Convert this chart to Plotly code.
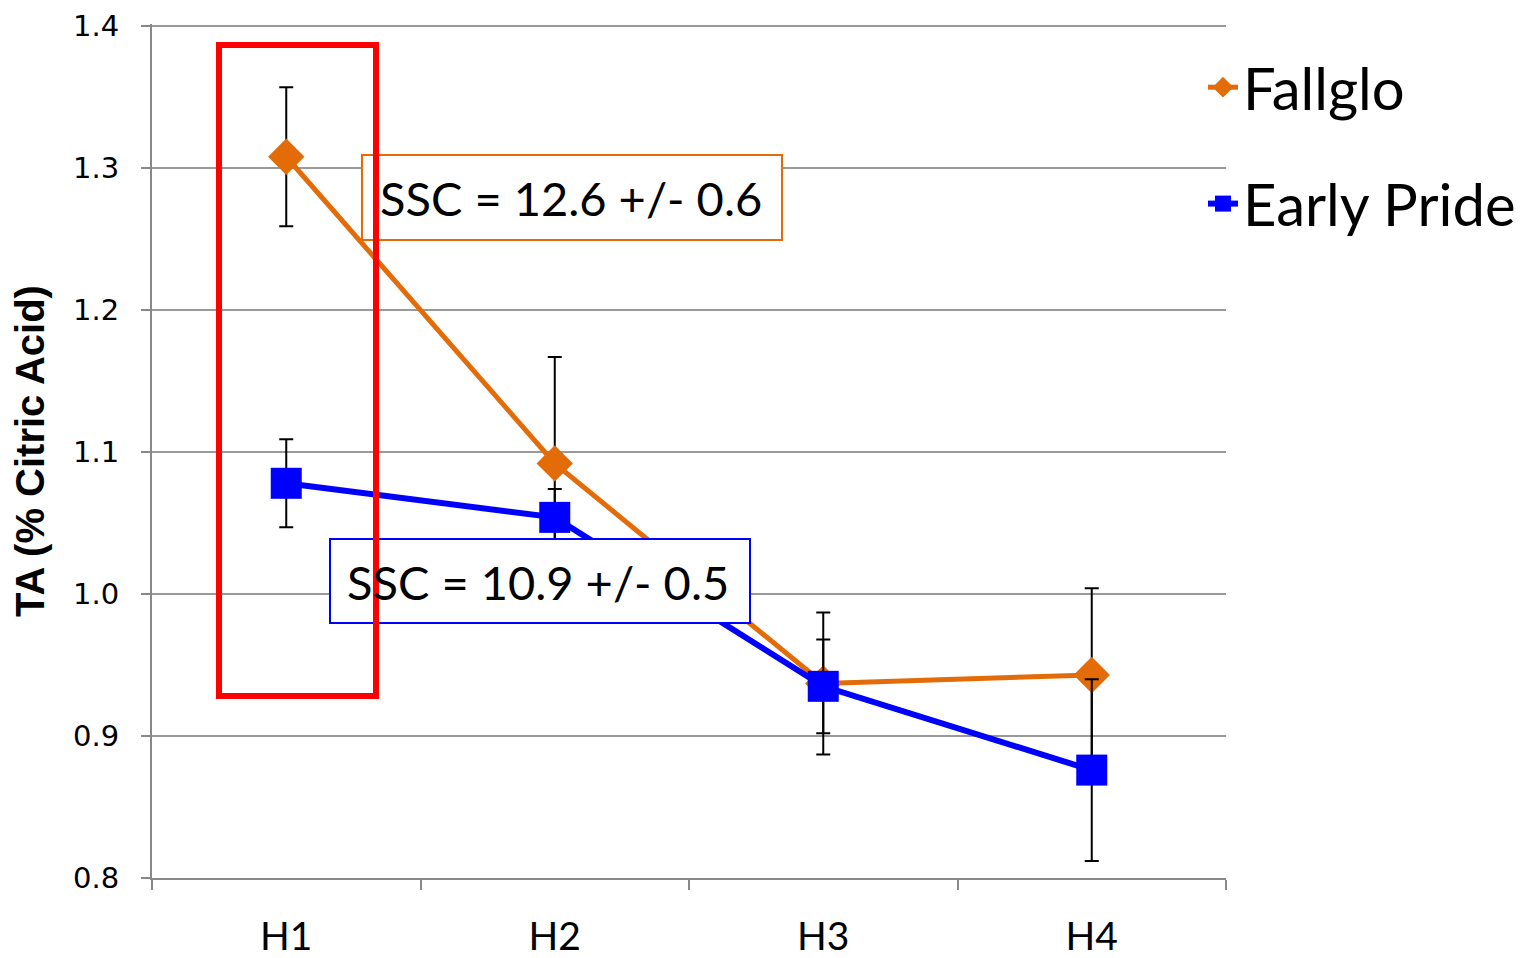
import plotly.graph_objects as go

categories = ["H1", "H2", "H3", "H4"]
fallglo = [1.308, 1.092, 0.937, 0.943]
fallglo_err = [0.049, 0.075, 0.050, 0.061]
early_pride = [1.078, 1.054, 0.935, 0.876]
early_pride_err = [0.031, 0.020, 0.033, 0.064]
y_ticks = [0.8, 0.9, 1.0, 1.1, 1.2, 1.3, 1.4]

ORANGE = "#E36C09"
BLUE = "#0000FF"

fig = go.Figure()
fig.add_trace(go.Scatter(
    x=categories, y=fallglo, name="Fallglo", mode="lines+markers", legendgroup="f",
    line=dict(color=ORANGE, width=5),
    marker=dict(symbol="diamond", size=28, color=ORANGE),
    error_y=dict(type="data", array=fallglo_err, color="black", thickness=2, width=7),
))
fig.add_trace(go.Scatter(
    x=categories, y=early_pride, name="Early Pride", mode="lines+markers", legendgroup="e",
    line=dict(color=BLUE, width=6),
    marker=dict(symbol="square", size=31, color=BLUE),
    error_y=dict(type="data", array=early_pride_err, color="black", thickness=2, width=7),
))

OFF = 8  # page body margin
W, H = 1520, 950
L, T = 152 - OFF, 24 - OFF
pw, ph = 1074, 854
R, B = W - L - pw, H - T - ph

def px(x):
    return (x - OFF - L) / pw

def py(y):
    return 1 - (y - OFF - T) / ph

shapes = [
    dict(type="rect", xref="paper", yref="paper", x0=px(362), x1=px(782), y0=py(240), y1=py(155),
         line=dict(color=ORANGE, width=2), fillcolor="white", layer="above"),
    dict(type="rect", xref="paper", yref="paper", x0=px(330), x1=px(750), y0=py(623), y1=py(539),
         line=dict(color=BLUE, width=2), fillcolor="white", layer="above"),
    dict(type="rect", xref="paper", yref="paper", x0=px(219), x1=px(376), y0=py(696), y1=py(45),
         line=dict(color="#FF0000", width=6), layer="above"),
]

annotations = [
    dict(text="SSC = 12.6 +/- 0.6", xref="paper", yref="paper", x=px(571), y=py(198),
         showarrow=False, font=dict(family="Lato", size=47, color="black"), xanchor="center", yanchor="middle"),
    dict(text="SSC = 10.9 +/- 0.5", xref="paper", yref="paper", x=px(538), y=py(582),
         showarrow=False, font=dict(family="Lato", size=47, color="black"), xanchor="center", yanchor="middle"),
]

fig.update_layout(
    width=W, height=H,
    margin=dict(l=L, r=R, t=T, b=B, autoexpand=False),
    paper_bgcolor="white", plot_bgcolor="white",
    shapes=shapes, annotations=annotations,
    legend=dict(x=px(1203), y=py(43), xanchor="left", yanchor="top",
                font=dict(family="Lato", size=58, color="black"),
                tracegroupgap=38, itemsizing="trace", bgcolor="rgba(0,0,0,0)"),
    showlegend=True,
)
fig.update_xaxes(
    type="category", range=[-0.5, 3.5], tickson="boundaries", automargin=False,
    ticks="outside", ticklen=10, tickcolor="#888888", tickwidth=1.5,
    showline=True, linecolor="#888888", linewidth=2, showgrid=False,
    tickfont=dict(family="Lato", size=39, color="black"), ticklabelstandoff=23,
    ticklabeloverflow="allow",
)
fig.update_yaxes(
    range=[0.8, 1.4015], tickvals=y_ticks, tickformat=".1f", automargin=False,
    ticks="outside", ticklen=9, tickcolor="#888888", tickwidth=1.5,
    showline=True, linecolor="#888888", linewidth=2,
    showgrid=True, gridcolor="#999999", gridwidth=1.5,
    tickfont=dict(family="DejaVu Sans", size=29, color="black"), ticklabelstandoff=16,
    ticklabeloverflow="allow",
    title=dict(text="<b>TA (% Citric Acid)</b>", standoff=16,
               font=dict(family="Liberation Sans", size=40, color="black")),
)

fig.write_html("out.html")
